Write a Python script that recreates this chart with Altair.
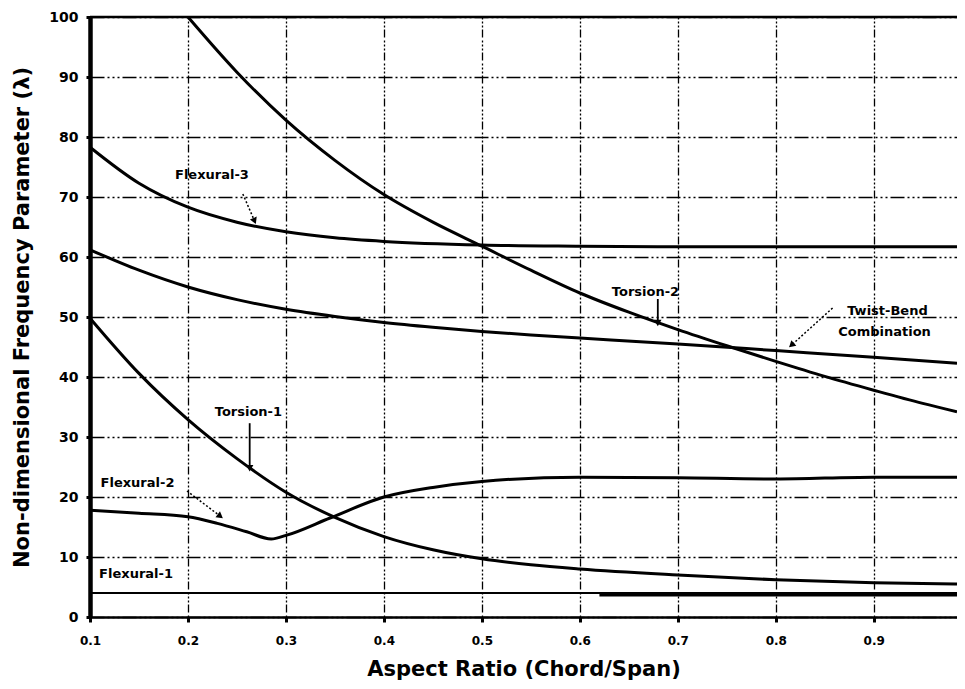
import math
import altair as alt
import pandas as pd

FONT = "DejaVu Sans"

# ---------------- data ----------------
X_MIN, X_MAX = 0.1, 0.985
Y_MIN, Y_MAX = 0, 100
x_ticks = [0.1, 0.2, 0.3, 0.4, 0.5, 0.6, 0.7, 0.8, 0.9]
y_ticks = [0, 10, 20, 30, 40, 50, 60, 70, 80, 90, 100]

flex3_x = [0.1, 0.15, 0.2, 0.25, 0.3, 0.35, 0.4, 0.5, 0.6, 0.7, 0.8, 0.9, 0.985]
flex3_y = [78.3, 72.3, 68.3, 65.8, 64.2, 63.2, 62.6, 62.0, 61.8, 61.7, 61.7, 61.7, 61.7]

tors2_x = [0.2, 0.25, 0.3, 0.35, 0.4, 0.45, 0.5, 0.55, 0.6, 0.65, 0.7, 0.75, 0.8, 0.85, 0.9, 0.95, 0.985]
tors2_y = [100, 90.8, 82.8, 76.1, 70.4, 65.8, 61.8, 57.8, 54.0, 50.8, 47.9, 45.2, 42.6, 40.1, 37.8, 35.6, 34.2]

twist_x = [0.1, 0.15, 0.2, 0.25, 0.3, 0.35, 0.4, 0.45, 0.5, 0.55, 0.6, 0.7, 0.8, 0.9, 0.985]
twist_y = [61.2, 57.8, 55.0, 52.9, 51.3, 50.1, 49.1, 48.3, 47.6, 47.0, 46.5, 45.5, 44.4, 43.3, 42.3]

tors1_x = [0.1, 0.15, 0.2, 0.25, 0.3, 0.35, 0.4, 0.45, 0.5, 0.55, 0.6, 0.7, 0.8, 0.9, 0.985]
tors1_y = [49.8, 40.6, 32.9, 26.4, 20.8, 16.6, 13.4, 11.2, 9.7, 8.7, 8.0, 7.0, 6.2, 5.7, 5.5]

flex2_x = [0.1, 0.15, 0.2, 0.23, 0.26, 0.285, 0.3, 0.345, 0.4, 0.45, 0.5, 0.6, 0.7, 0.8, 0.9, 0.985]
flex2_y = [17.8, 17.3, 16.7, 15.6, 14.2, 13.0, 13.6, 16.5, 20.0, 21.6, 22.6, 23.3, 23.2, 23.0, 23.3, 23.3]

flex1_x = [0.1, 0.985]
flex1_y = [4.0, 4.0]
flex1b_x = [0.62, 0.985]
flex1b_y = [3.7, 3.7]

lab_text = ["Flexural-3", "Torsion-2", "Twist-Bend", "Combination", "Torsion-1", "Flexural-2", "Flexural-1"]
lab_x = [0.2245, 0.667, 0.914, 0.911, 0.2617, 0.1485, 0.147]
lab_y = [73.7, 54.2, 51.0, 47.5, 34.2, 22.3, 7.25]

arr_x0 = [0.256, 0.6796, 0.858, 0.263, 0.199]
arr_y0 = [70.5, 53.0, 51.5, 32.3, 21.0]
arr_x1 = [0.268, 0.6796, 0.816, 0.263, 0.233]
arr_y1 = [66.0, 49.0, 45.3, 24.8, 16.8]
arr_dotted = [True, False, True, False, True]

# ---------------- build tables ----------------
W, H = 867, 600

def long(series):
    rows = []
    for name, xs, ys in series:
        for i, (a, b) in enumerate(zip(xs, ys)):
            rows.append({"series": name, "x": a, "y": b, "i": i})
    return pd.DataFrame(rows)

curves = long([
    ("Flexural-3", flex3_x, flex3_y),
    ("Torsion-2", tors2_x, tors2_y),
    ("Twist-Bend Combination", twist_x, twist_y),
    ("Torsion-1", tors1_x, tors1_y),
    ("Flexural-2", flex2_x, flex2_y),
])
flex1 = long([("Flexural-1", flex1_x, flex1_y)])
flex1b = long([("Flexural-1b", flex1b_x, flex1b_y)])

labels = pd.DataFrame({"x": lab_x, "y": lab_y, "t": lab_text})

px_x = W / (X_MAX - X_MIN)
px_y = H / (Y_MAX - Y_MIN)
angs = []
for a, b, c, d in zip(arr_x0, arr_y0, arr_x1, arr_y1):
    dx = (c - a) * px_x
    dy = -(d - b) * px_y
    angs.append(math.degrees(math.atan2(dx, -dy)) % 360)
arrows = pd.DataFrame({"x": arr_x0, "y": arr_y0, "x2": arr_x1, "y2": arr_y1,
                       "dotted": arr_dotted, "ang": angs})

# ---------------- chart ----------------
xscale = alt.Scale(domain=[X_MIN, X_MAX], nice=False, zero=False)
yscale = alt.Scale(domain=[Y_MIN, Y_MAX], nice=False, zero=False)

x_axis = alt.Axis(
    values=x_ticks, format=".1f", title="Aspect Ratio (Chord/Span)", labelFlush=False,
    grid=True, gridColor="#000", gridDash=[2, 2, 2, 2, 2, 2, 8, 3], gridWidth=1.3, gridOpacity=1,
    domainColor="#000", domainWidth=2.5, tickColor="#000", tickSize=5, tickWidth=3,
    labelFont=FONT, labelFontSize=12, labelFontWeight="bold", labelColor="#000", labelPadding=13,
    titleFont=FONT, titleFontSize=21, titleFontWeight="bold", titleColor="#000", titlePadding=12,
)
y_axis = alt.Axis(
    values=y_ticks, title="Non-dimensional Frequency Parameter (λ)",
    grid=True, gridColor="#000", gridDash=[14, 3, 2, 3, 2, 3, 2, 3], gridWidth=1.3, gridOpacity=1,
    domainColor="#000", domainWidth=4.5, tickColor="#000", tickSize=4, tickWidth=3,
    labelFont=FONT, labelFontSize=14, labelFontWeight="bold", labelColor="#000", labelPadding=8,
    titleFont=FONT, titleFontSize=21, titleFontWeight="bold", titleColor="#000",
    titleX=-68, titleY=300, titleBaseline="middle",
)

def X(f):
    return alt.X(f, scale=xscale, axis=x_axis)

def Y(f):
    return alt.Y(f, scale=yscale, axis=y_axis)

lines = alt.Chart(curves).mark_line(color="#000", strokeWidth=3, interpolate="monotone").encode(
    x=X("x:Q"), y=Y("y:Q"), detail="series:N", order="i:Q",
)
f1 = alt.Chart(flex1).mark_line(color="#000", strokeWidth=2).encode(
    x=X("x:Q"), y=Y("y:Q"), order="i:Q",
)
f1b = alt.Chart(flex1b).mark_line(color="#000", strokeWidth=3.5).encode(
    x=X("x:Q"), y=Y("y:Q"), order="i:Q",
)
top_rule = alt.Chart(pd.DataFrame({"y": [Y_MAX]})).mark_rule(color="#000", strokeWidth=2.5).encode(
    y=Y("y:Q"),
)
text = alt.Chart(labels).mark_text(
    font=FONT, fontSize=13, fontWeight="bold", color="#000", align="center", baseline="middle"
).encode(x=X("x:Q"), y=Y("y:Q"), text="t:N")

shaft_solid = alt.Chart(arrows[~arrows["dotted"]]).mark_rule(color="#000", strokeWidth=1.8).encode(
    x=X("x:Q"), y=Y("y:Q"), x2="x2:Q", y2="y2:Q",
)
shaft_dot = alt.Chart(arrows[arrows["dotted"]]).mark_rule(color="#000", strokeWidth=1.5, strokeDash=[2, 2]).encode(
    x=X("x:Q"), y=Y("y:Q"), x2="x2:Q", y2="y2:Q",
)
heads = alt.Chart(arrows).mark_point(shape="triangle-up", filled=True, size=55, color="#000", opacity=1).encode(
    x=X("x2:Q"), y=Y("y2:Q"), angle=alt.Angle("ang:Q", scale=None),
)

chart = alt.layer(lines, f1, f1b, top_rule, shaft_solid, shaft_dot, heads, text).properties(
    width=W, height=H,
    padding={"left": 82, "top": 9, "right": 0, "bottom": 64},
    autosize=alt.AutoSizeParams(type="none"),
    background="white",
).configure_view(stroke=None)

chart.save("out.html", embed_options={"renderer": "svg", "actions": False})
